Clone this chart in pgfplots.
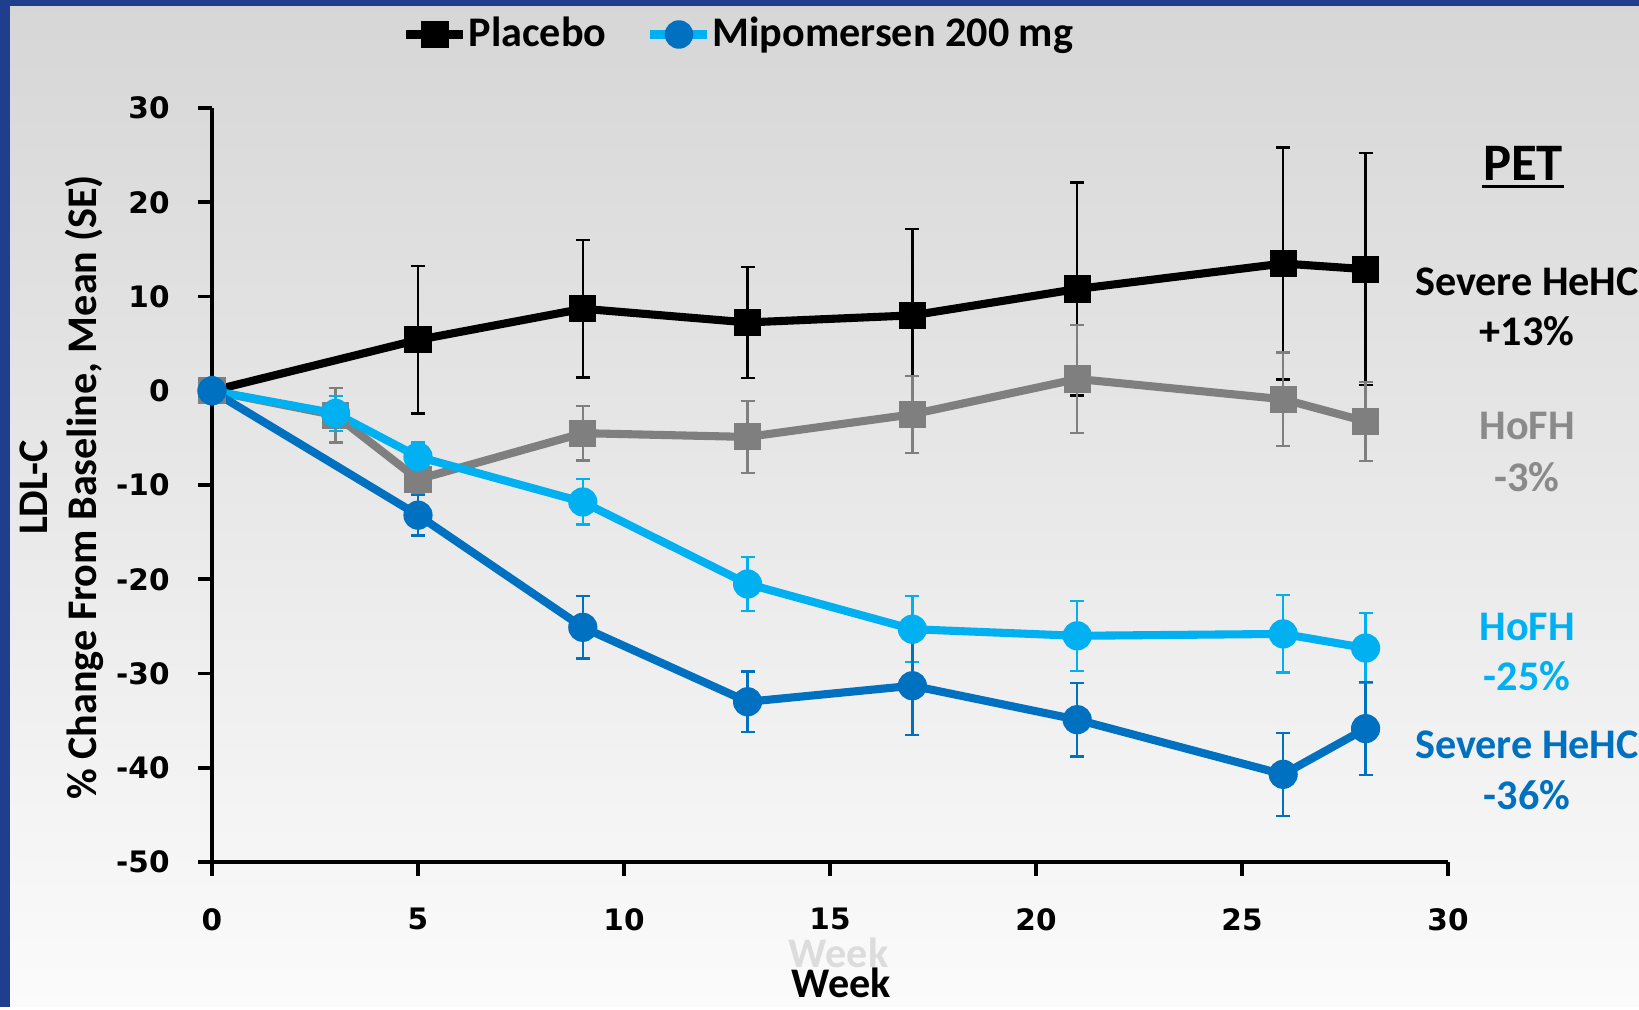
\documentclass[border=0pt]{standalone}
\usepackage{fontspec}
\setmainfont{Carlito}
\newfontfamily\tickfont{DejaVu Sans}
\usepackage{pgfplots}
\pgfplotsset{compat=1.18}
\definecolor{lblue}{HTML}{00B0F0}
\definecolor{dblue}{HTML}{0070C0}
\definecolor{pgray}{HTML}{7F7F7F}
\definecolor{tgray}{HTML}{8A8A8A}
\definecolor{frameblue}{HTML}{203E8E}
\definecolor{bgtop}{HTML}{D6D6D6}
\definecolor{bgbot}{HTML}{FBFBFB}
\definecolor{ghost}{HTML}{DCDCDC}

\pgfplotstableread{
x y e
0 0 0
5 5.4 7.8
9 8.7 7.3
13 7.25 5.9
17 8.0 9.2
21 10.8 11.3
26 13.5 12.3
28 12.9 12.3
}\plaSevere

\pgfplotstableread{
x y e
0 0 0
3 -2.6 2.9
5 -9.4 1.5
9 -4.5 2.9
13 -4.9 3.8
17 -2.5 4.1
21 1.25 5.75
26 -0.9 4.95
28 -3.25 4.2
}\plaHoFH

\pgfplotstableread{
x y e
0 0 0
3 -2.4 1.85
5 -7.0 1.5
9 -11.8 2.4
13 -20.5 2.85
17 -25.3 3.5
21 -26.0 3.7
26 -25.8 4.1
28 -27.3 3.7
}\mipHoFH

\pgfplotstableread{
x y e
0 0 0
5 -13.2 2.15
9 -25.1 3.3
13 -33.0 3.2
17 -31.3 5.2
21 -34.9 3.9
26 -40.7 4.4
28 -35.85 4.95
}\mipSevere

\begin{document}
\begin{tikzpicture}
\shade[top color=bgtop, bottom color=bgbot] (0,0) rectangle (16.39,10.07);
\fill[frameblue] (0,0) rectangle (0.10,10.07);
\fill[frameblue] (0,10.01) rectangle (16.39,10.07);
\begin{axis}[
  at={(2.12cm,1.45cm)}, anchor=south west,
  width=12.36cm, height=7.54cm, scale only axis,
  xmin=0, xmax=30, ymin=-50, ymax=30,
  clip=false,
  axis lines=left,
  axis line style={-, line width=1.1pt, black},
  xtick={0,5,...,30}, ytick={-50,-40,...,30},
  tick align=outside,
  major tick length=1.4mm,
  tick style={line width=1.1pt, black},
  /pgf/number format/assume math mode=true,
  ticklabel style={font=\tickfont\bfseries\fontsize{8.4}{10}\selectfont},
  xticklabel style={yshift=-2.0mm},
  yticklabel style={xshift=-1.6mm},
  xlabel={Week},
  xlabel style={at={(axis description cs:0.509,-0.1605)}, anchor=center, font=\fontsize{12}{14}\selectfont\bfseries},
  ylabel={LDL-C\\\% Change From Baseline, Mean (SE)},
  ylabel style={align=center, at={(axis description cs:-0.1216,0.4966)}, anchor=center, font=\fontsize{12}{14.2}\selectfont\bfseries},
  legend style={at={(axis description cs:0.1535,1.0975)}, anchor=west, draw=none, fill=none,
    font=\fontsize{12}{14}\selectfont\bfseries, inner sep=0pt,
    nodes={inner xsep=0.3pt},
    /tikz/every even column/.append style={column sep=3.9mm}},
  legend columns=2,
  legend cell align=left,
  legend image code/.code={\draw[#1] (0cm,0cm) -- (0.57cm,0cm); \draw[#1] plot coordinates {(0.285cm,0cm)};},
]
\addlegendimage{black, line width=2.3pt, mark=square*, mark size=3.6pt, mark options={black, fill=black, line width=0.5pt}}
\addlegendentry{Placebo}
\addlegendimage{lblue, line width=2.3pt, mark=*, mark size=3.8pt, mark options={dblue, fill=dblue, line width=0.5pt}}
\addlegendentry{Mipomersen 200 mg}

\addplot[forget plot, black, line width=2.3pt, mark=square*, mark size=3.6pt, mark options={fill=black, line width=0.5pt},
  error bars/.cd, y dir=both, y explicit,
  error bar style={line width=0.65pt, black},
  error mark options={rotate=90, mark size=2pt, line width=0.65pt, black}]
  table[x=x, y=y, y error=e] {\plaSevere};

\addplot[forget plot, pgray, line width=2.3pt, mark=square*, mark size=3.6pt, mark options={fill=pgray, line width=0.5pt},
  error bars/.cd, y dir=both, y explicit,
  error bar style={line width=0.65pt, pgray},
  error mark options={rotate=90, mark size=2pt, line width=0.65pt, pgray}]
  table[x=x, y=y, y error=e] {\plaHoFH};

\addplot[forget plot, lblue, line width=2.3pt, mark=*, mark size=3.9pt, mark options={fill=lblue, line width=0.5pt},
  error bars/.cd, y dir=both, y explicit,
  error bar style={line width=0.65pt, lblue},
  error mark options={rotate=90, mark size=2pt, line width=0.65pt, lblue}]
  table[x=x, y=y, y error=e] {\mipHoFH};

\addplot[forget plot, dblue, line width=2.3pt, mark=*, mark size=3.9pt, mark options={fill=dblue, line width=0.5pt},
  error bars/.cd, y dir=both, y explicit,
  error bar style={line width=0.65pt, dblue},
  error mark options={rotate=90, mark size=2pt, line width=0.65pt, dblue}]
  table[x=x, y=y, y error=e] {\mipSevere};

\node[text=ghost, font=\fontsize{12}{14}\selectfont\bfseries, anchor=center] at (axis description cs:0.507,-0.1207) {Week};

\node[anchor=base, inner sep=0pt, font=\fontsize{15}{18}\selectfont\bfseries] (pet) at (axis cs:31.82,22.36) {PET};
\draw[line width=0.9pt] ([yshift=-1.8pt]pet.base west) -- ([yshift=-1.8pt]pet.base east);

\begin{scope}[every node/.style={anchor=base, inner sep=0pt, font=\fontsize{12}{14}\selectfont\bfseries}]
\node[text=black] at (axis cs:31.92,10.1) {Severe HeHC};
\node[text=black] at (axis cs:31.92,4.8) {+13\%};
\node[text=tgray] at (axis cs:31.92,-5.17) {HoFH};
\node[text=tgray] at (axis cs:31.92,-10.69) {-3\%};
\node[text=lblue] at (axis cs:31.92,-26.5) {HoFH};
\node[text=lblue] at (axis cs:31.92,-31.8) {-25\%};
\node[text=dblue] at (axis cs:31.92,-39.0) {Severe HeHC};
\node[text=dblue] at (axis cs:31.92,-44.43) {-36\%};
\end{scope}
\end{axis}
\end{tikzpicture}
\end{document}
